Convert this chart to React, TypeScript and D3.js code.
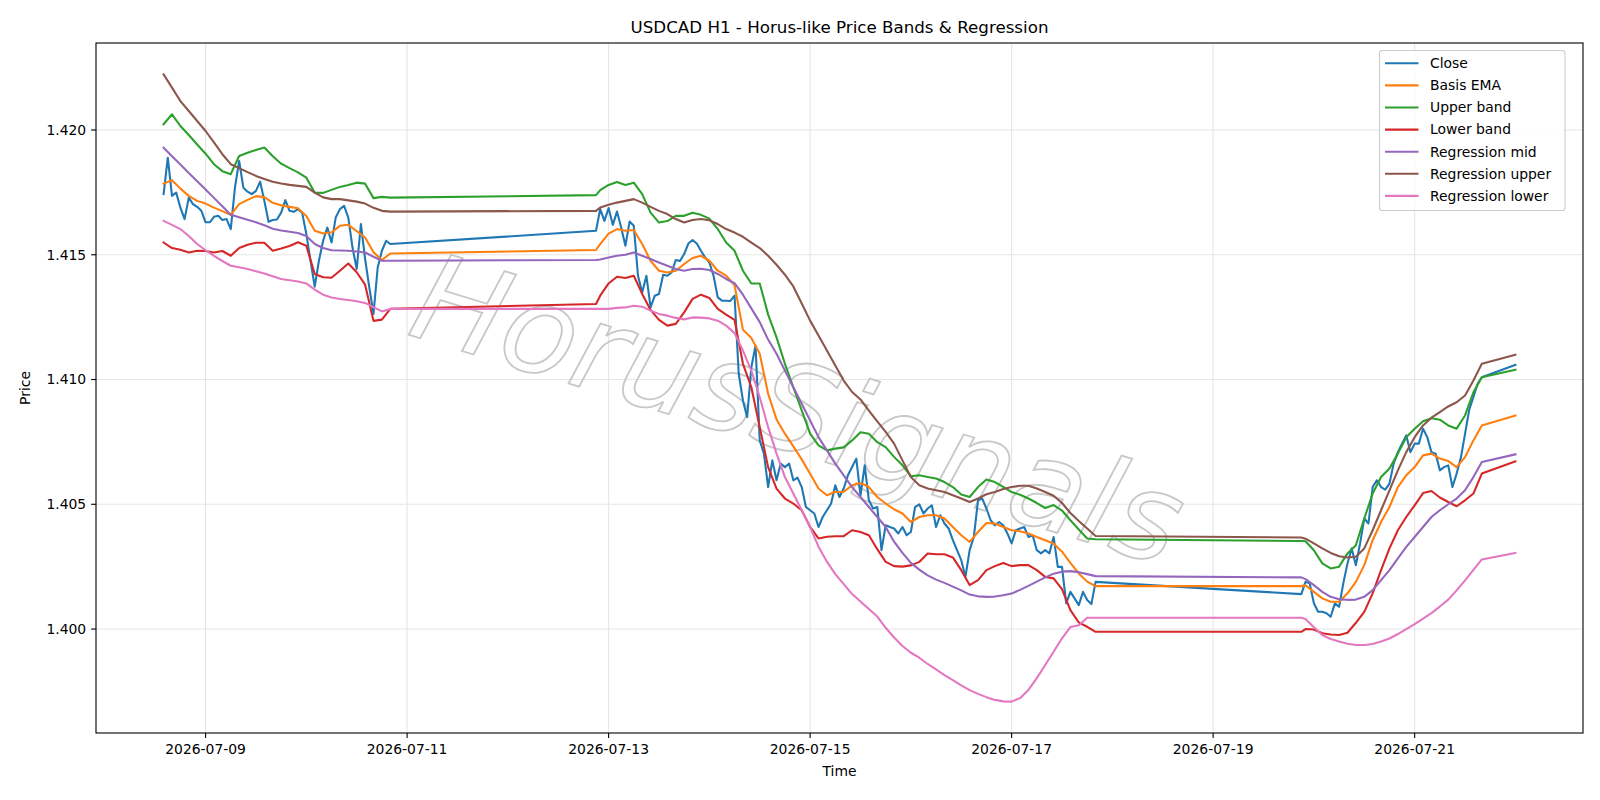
import React from 'react';
import * as d3 from 'd3';

// Hours are counted from 2026-07-08 00:00 UTC
const T0 = Date.UTC(2026, 6, 8);
const hourToDate = (h: number) => new Date(T0 + h * 3600 * 1000);

// Hourly bars: Wed 14:00 -> Fri 20:00, Sun 21:00 -> Fri 20:00, Sun 21:00 -> Tue 16:00, last bar Wed 00:00
const closeHours = [...d3.range(14, 69), ...d3.range(117, 237), ...d3.range(285, 329), 336];
// Band / regression values read every two hours
const bandHours = [...d3.range(14, 69, 2), 117, ...d3.range(118, 237, 2), 285, ...d3.range(286, 329, 2), 336];

const closePrices = [
  // 07-08 14:00 .. 07-10 20:00
  1.41743, 1.41889, 1.41736, 1.41749, 1.41689, 1.41643, 1.41729, 1.41703, 1.41692, 1.41676,
  1.4163, 1.4163, 1.41652, 1.41656, 1.41639, 1.41643, 1.41603, 1.41769, 1.41876, 1.41769,
  1.41753, 1.41743, 1.41756, 1.41793, 1.41716, 1.41632, 1.41639, 1.41641, 1.41669, 1.41719,
  1.41676, 1.41672, 1.41683, 1.41669, 1.41583, 1.41476, 1.41372, 1.41476, 1.41556, 1.41609,
  1.41549, 1.41649, 1.41683, 1.41696, 1.41649, 1.41529, 1.41443, 1.41623, 1.41483, 1.41369,
  1.41263, 1.41449, 1.41516, 1.41556, 1.41543,
  // 07-12 21:00 .. 07-17 20:00
  1.41596, 1.41683, 1.41636, 1.41687, 1.4162, 1.41673, 1.41609, 1.41536, 1.41633, 1.41616,
  1.41416, 1.41349, 1.41416, 1.41289, 1.41336, 1.41343, 1.4142, 1.41416, 1.41429, 1.41479,
  1.41475, 1.41503, 1.41545, 1.41559, 1.41545, 1.41516, 1.41489, 1.41469, 1.41416, 1.41329,
  1.41316, 1.41316, 1.41315, 1.41336, 1.41023, 1.40916, 1.40849, 1.41049, 1.41136, 1.40756,
  1.40703, 1.40569, 1.40676, 1.40596, 1.40663, 1.40649, 1.40663, 1.40596, 1.40607, 1.40569,
  1.40489, 1.40476, 1.40463, 1.40409, 1.40449, 1.40476, 1.40503, 1.40576, 1.40529, 1.40563,
  1.40616, 1.40649, 1.40683, 1.40536, 1.40656, 1.40516, 1.40483, 1.40489, 1.40316, 1.40416,
  1.40409, 1.40403, 1.40383, 1.40409, 1.40376, 1.40389, 1.40489, 1.405, 1.40463, 1.40483,
  1.40496, 1.40409, 1.40456, 1.40423, 1.40403, 1.40356, 1.40316, 1.40276, 1.40209, 1.40316,
  1.40369, 1.40516, 1.40523, 1.40483, 1.40436, 1.40416, 1.40429, 1.40416, 1.40383, 1.40343,
  1.40396, 1.40403, 1.40409, 1.40369, 1.40376, 1.40316, 1.40303, 1.40316, 1.40303, 1.40369,
  1.40249, 1.40249, 1.40103, 1.40149, 1.40123, 1.40096, 1.40149, 1.40116, 1.401, 1.40189,
  // 07-19 21:00 .. 07-21 16:00, 07-22 00:00
  1.4014, 1.40189, 1.40183, 1.40103, 1.40069, 1.40069, 1.40063, 1.40049, 1.40103, 1.40089,
  1.40183, 1.40263, 1.40323, 1.40256, 1.40343, 1.40443, 1.40423, 1.40569, 1.40596, 1.40569,
  1.40559, 1.40583, 1.40663, 1.40709, 1.40743, 1.40776, 1.40709, 1.40743, 1.40743, 1.40803,
  1.40769, 1.40709, 1.40703, 1.40636, 1.40649, 1.40656, 1.40569, 1.40623, 1.40686, 1.40782,
  1.40879, 1.4093, 1.40983, 1.41009, 1.41059,
];

const basisEma = [
  1.41785, 1.41799, 1.41765, 1.41736, 1.41716, 1.41705, 1.41689, 1.41675, 1.4166, 1.41703,
  1.4172, 1.41735, 1.41731, 1.41708, 1.41698, 1.41692, 1.41686, 1.41655, 1.41596, 1.41585,
  1.4159, 1.41616, 1.4162, 1.41595, 1.41569, 1.4151, 1.41479, 1.41505,
  1.41519, 1.41543, 1.41585, 1.41603, 1.41596, 1.41599, 1.41543, 1.41476, 1.41436, 1.41429,
  1.41436, 1.41463, 1.41487, 1.41496, 1.41476, 1.41436, 1.41416, 1.41378, 1.412, 1.41166,
  1.41103, 1.40943, 1.4084, 1.40783, 1.40732, 1.4068, 1.40622, 1.40563, 1.40536, 1.40549,
  1.4055, 1.40576, 1.40585, 1.40569, 1.40529, 1.40503, 1.4048, 1.40463, 1.40429, 1.40449,
  1.40456, 1.40456, 1.40443, 1.40409, 1.40376, 1.40349, 1.40389, 1.40425, 1.40423, 1.40409,
  1.40396, 1.40392, 1.40383, 1.40369, 1.40356, 1.40343, 1.4031, 1.40265, 1.40223, 1.4019,
  1.40172,
  1.40172, 1.40175, 1.40149, 1.40123, 1.40109, 1.40109, 1.40143, 1.40189, 1.40256, 1.40356,
  1.40429, 1.40489, 1.40569, 1.40616, 1.40649, 1.40696, 1.40703, 1.40683, 1.40673, 1.40649,
  1.40689, 1.40756, 1.40816, 1.40856,
];

const upperBand = [
  1.42023, 1.42063, 1.42016, 1.4198, 1.41942, 1.41905, 1.41863, 1.41835, 1.41823, 1.41896,
  1.41909, 1.4192, 1.4193, 1.41895, 1.41865, 1.41847, 1.4183, 1.41809, 1.41749, 1.41748,
  1.4176, 1.41772, 1.4178, 1.41789, 1.41785, 1.41727, 1.41732, 1.41729,
  1.41739, 1.41759, 1.4178, 1.41792, 1.4178, 1.41789, 1.41743, 1.41669, 1.41629, 1.41635,
  1.41656, 1.41656, 1.41668, 1.4166, 1.41645, 1.41603, 1.41549, 1.41516, 1.41436, 1.41385,
  1.41385, 1.4126, 1.41169, 1.41063, 1.40969, 1.40876, 1.40783, 1.40736, 1.40716, 1.40723,
  1.40728, 1.40756, 1.40789, 1.40783, 1.40749, 1.40729, 1.4069, 1.40656, 1.40612, 1.40616,
  1.40609, 1.40603, 1.40589, 1.40569, 1.40539, 1.40529, 1.40569, 1.40599, 1.40589, 1.4057,
  1.40549, 1.40538, 1.40523, 1.40505, 1.40485, 1.40497, 1.40475, 1.40436, 1.40399, 1.40363,
  1.4036,
  1.40353, 1.40352, 1.40316, 1.40263, 1.40243, 1.4025, 1.40303, 1.40336, 1.40443, 1.40543,
  1.40609, 1.40643, 1.40703, 1.40769, 1.40803, 1.40833, 1.40845, 1.40839, 1.40816, 1.40803,
  1.40856, 1.40949, 1.41009, 1.41039,
];

const lowerBand = [
  1.41549, 1.41527, 1.4152, 1.41509, 1.41516, 1.41515, 1.41509, 1.41515, 1.41496, 1.41527,
  1.4154, 1.41548, 1.41548, 1.41516, 1.41525, 1.41535, 1.4155, 1.41536, 1.41423, 1.4141,
  1.41408, 1.41436, 1.41465, 1.4143, 1.4138, 1.41235, 1.4124, 1.41283,
  1.41303, 1.41336, 1.41385, 1.41412, 1.41407, 1.41416, 1.41343, 1.41279, 1.41239, 1.41216,
  1.41223, 1.41269, 1.41323, 1.4134, 1.41327, 1.41283, 1.4126, 1.41239, 1.41063, 1.40969,
  1.40809, 1.40649, 1.40563, 1.40523, 1.40503, 1.40476, 1.40409, 1.40363, 1.4037, 1.40372,
  1.40372, 1.40396, 1.40389, 1.40376, 1.4032, 1.40269, 1.40252, 1.4025, 1.40255, 1.40269,
  1.40303, 1.403, 1.403, 1.40287, 1.40236, 1.40176, 1.40196, 1.40236, 1.40252, 1.40265,
  1.40252, 1.40256, 1.40256, 1.40236, 1.40209, 1.40203, 1.4016, 1.40076, 1.40026, 1.40009,
  1.39989,
  1.39989, 1.4, 1.39998, 1.39983, 1.39978, 1.39976, 1.39985, 1.40025, 1.40069, 1.40143,
  1.40236, 1.40323, 1.40396, 1.40449, 1.40496, 1.40545, 1.40553, 1.40527, 1.40509, 1.40492,
  1.40516, 1.40543, 1.40623, 1.40672,
];

const regressionMid = [
  1.41929, 1.41895, 1.41862, 1.41828, 1.41795, 1.41762, 1.41728, 1.41694, 1.4166, 1.4165,
  1.4164, 1.4163, 1.41618, 1.41604, 1.41597, 1.41592, 1.41587, 1.41575, 1.41543, 1.41527,
  1.41518, 1.41517, 1.41516, 1.41513, 1.41509, 1.41492, 1.41476, 1.41476,
  1.41479, 1.41481, 1.41489, 1.41496, 1.415, 1.41509, 1.41496, 1.41483, 1.41469, 1.41456,
  1.41443, 1.41436, 1.41443, 1.41444, 1.41439, 1.41423, 1.41403, 1.41386, 1.4134, 1.41285,
  1.4123, 1.4116, 1.41103, 1.41036, 1.40969, 1.40903, 1.40836, 1.40769, 1.40716, 1.40663,
  1.40616, 1.40569, 1.40529, 1.40489, 1.40449, 1.40409, 1.4035, 1.40305, 1.40265, 1.40238,
  1.40215, 1.40198, 1.40185, 1.4017, 1.40155, 1.40138, 1.40131, 1.40129, 1.4013, 1.40135,
  1.40142, 1.40157, 1.40173, 1.4019, 1.40207, 1.40222, 1.4023, 1.40232, 1.40228, 1.4022,
  1.40212,
  1.40207, 1.402, 1.40176, 1.40149, 1.40129, 1.40119, 1.40117, 1.40118, 1.40129, 1.40156,
  1.40196, 1.40236, 1.40283, 1.40329, 1.40369, 1.40409, 1.40449, 1.40476, 1.405, 1.40523,
  1.40556, 1.40609, 1.40669, 1.407,
];

const regressionUpper = [
  1.42223, 1.4217, 1.42116, 1.42076, 1.42036, 1.41996, 1.4195, 1.41903, 1.41863, 1.41847,
  1.41831, 1.41816, 1.41804, 1.41793, 1.41786, 1.4178, 1.41776, 1.41772, 1.41749, 1.4173,
  1.41723, 1.41723, 1.41718, 1.41713, 1.41705, 1.41688, 1.41676, 1.41673,
  1.41676, 1.41689, 1.417, 1.41709, 1.41716, 1.41723, 1.41709, 1.41692, 1.41676, 1.41663,
  1.41643, 1.41629, 1.41639, 1.41643, 1.41638, 1.41623, 1.41603, 1.41589, 1.41572, 1.41549,
  1.41527, 1.41496, 1.4146, 1.4142, 1.41373, 1.41305, 1.41236, 1.41176, 1.41116, 1.41056,
  1.40996, 1.4095, 1.4092, 1.40875, 1.40832, 1.4079, 1.40743, 1.40676, 1.40609, 1.40576,
  1.40563, 1.40556, 1.40549, 1.40536, 1.40523, 1.40509, 1.40523, 1.4054, 1.40549, 1.40561,
  1.40569, 1.40574, 1.40574, 1.40563, 1.40549, 1.40534, 1.40505, 1.40465, 1.40433, 1.40403,
  1.40373,
  1.40367, 1.40362, 1.40343, 1.40323, 1.40305, 1.40292, 1.40287, 1.4029, 1.40323, 1.40396,
  1.40476, 1.40556, 1.40636, 1.40709, 1.40769, 1.40816, 1.40847, 1.40869, 1.40892, 1.40909,
  1.40936, 1.40996, 1.41063, 1.41099,
];

const regressionLower = [
  1.41636, 1.4162, 1.41603, 1.41575, 1.41543, 1.41518, 1.41496, 1.41475, 1.41456, 1.4145,
  1.41443, 1.41434, 1.41425, 1.41414, 1.41403, 1.41398, 1.41393, 1.41385, 1.4136, 1.4134,
  1.41329, 1.41323, 1.41319, 1.41314, 1.41307, 1.4129, 1.41273, 1.41283,
  1.41283, 1.41283, 1.41283, 1.41287, 1.41289, 1.41296, 1.41292, 1.41276, 1.41263, 1.41256,
  1.41247, 1.41241, 1.41249, 1.41248, 1.41245, 1.41236, 1.41216, 1.41186, 1.41116, 1.41036,
  1.40929, 1.40809, 1.40703, 1.40609, 1.40543, 1.40476, 1.40409, 1.4033, 1.4027, 1.4022,
  1.4018, 1.4014, 1.4011, 1.4008, 1.4005, 1.40005, 1.39966, 1.39932, 1.39905, 1.39885,
  1.3986, 1.39838, 1.39815, 1.39795, 1.39774, 1.39755, 1.3974, 1.39727, 1.39716, 1.3971,
  1.39709, 1.39723, 1.39756, 1.39803, 1.39856, 1.39909, 1.39963, 1.40008, 1.40015, 1.40045,
  1.40045,
  1.40045, 1.4004, 1.40007, 1.39976, 1.3996, 1.3995, 1.39941, 1.39936, 1.39936, 1.3994,
  1.3995, 1.39962, 1.3998, 1.4, 1.4002, 1.40042, 1.40064, 1.4009, 1.40118, 1.40155,
  1.40195, 1.40237, 1.40279, 1.40305,
];

const seriesNames = ['Close', 'Basis EMA', 'Upper band', 'Lower band', 'Regression mid', 'Regression upper', 'Regression lower'];
const seriesColors = ['#1f77b4', '#ff7f0e', '#2ca02c', '#d62728', '#9467bd', '#8c564b', '#e377c2'];

const xTickDays = [9, 11, 13, 15, 17, 19, 21];
const yTicks = [1.4, 1.405, 1.41, 1.415, 1.42];

const W = 1600;
const H = 800;
const margin = { top: 43, right: 17, bottom: 67, left: 96 };
const FONT = 'DejaVu Sans, sans-serif';

type Pt = { t: Date; v: number };

const App: React.FC = () => {
  const series = [
    { hours: closeHours, values: closePrices },
    { hours: bandHours, values: basisEma },
    { hours: bandHours, values: upperBand },
    { hours: bandHours, values: lowerBand },
    { hours: bandHours, values: regressionMid },
    { hours: bandHours, values: regressionUpper },
    { hours: bandHours, values: regressionLower },
  ].map((s, i) => ({
    name: seriesNames[i],
    color: seriesColors[i],
    points: s.hours.map((h, j) => ({ t: hourToDate(h), v: s.values[j] })) as Pt[],
  }));

  // matplotlib-style 5% margins
  const tMin = hourToDate(d3.min(closeHours) as number).getTime();
  const tMax = hourToDate(d3.max(closeHours) as number).getTime();
  const tPad = (tMax - tMin) * 0.05;
  const allV = series.flatMap(s => s.points.map(p => p.v));
  const vMin = d3.min(allV) as number;
  const vMax = d3.max(allV) as number;
  const vPad = (vMax - vMin) * 0.05;

  const x0 = margin.left;
  const x1 = W - margin.right;
  const y0 = margin.top;
  const y1 = H - margin.bottom;

  const xScale = d3.scaleUtc().domain([new Date(tMin - tPad), new Date(tMax + tPad)]).range([x0, x1]);
  const yScale = d3.scaleLinear().domain([vMin - vPad, vMax + vPad]).range([y1, y0]);

  const line = d3
    .line<Pt>()
    .x(d => xScale(d.t))
    .y(d => yScale(d.v));

  const xTicks = xTickDays.map(d => new Date(Date.UTC(2026, 6, d)));
  const fmtDate = d3.utcFormat('%Y-%m-%d');
  const fmtPrice = d3.format('.3f');
  const tickLen = 4.9;
  const gridColor = '#e6e6e6';

  const legendX = 1379.5;
  const legendY = 50.5;
  const rowH = 22.1;

  return (
    <svg
      width={W}
      height={H}
      style={{ position: 'absolute', left: 0, top: 0, display: 'block', background: '#fff' }}
      fontFamily={FONT}
    >
      <rect x={0} y={0} width={W} height={H} fill="#fff" />

      {/* Grid */}
      {xTicks.map((t, i) => (
        <line key={`gx${i}`} x1={xScale(t)} x2={xScale(t)} y1={y0} y2={y1} stroke={gridColor} strokeWidth={1.1} />
      ))}
      {yTicks.map((v, i) => (
        <line key={`gy${i}`} x1={x0} x2={x1} y1={yScale(v)} y2={yScale(v)} stroke={gridColor} strokeWidth={1.1} />
      ))}

      {/* Watermark */}
      <text
        transform="translate(786,450) rotate(17)"
        textAnchor="middle"
        fontSize={122}
        fontStyle="italic"
        fill="none"
        stroke="#c8c8c8"
        strokeWidth={1.8}
        fontFamily={FONT}
      >
        HorusSignals
      </text>

      {/* Series */}
      <g clipPath="url(#plotClip)">
        {series.map(s => (
          <path
            key={s.name}
            d={line(s.points) || ''}
            fill="none"
            stroke={s.color}
            strokeWidth={2.08}
            strokeLinejoin="round"
            strokeLinecap="square"
          />
        ))}
      </g>
      <defs>
        <clipPath id="plotClip">
          <rect x={x0} y={y0} width={x1 - x0} height={y1 - y0} />
        </clipPath>
      </defs>

      {/* Axes frame */}
      <rect x={x0} y={y0} width={x1 - x0} height={y1 - y0} fill="none" stroke="#000" strokeWidth={1.1} />

      {/* X ticks */}
      {xTicks.map((t, i) => (
        <g key={`xt${i}`} transform={`translate(${xScale(t)},${y1})`}>
          <line y1={0} y2={tickLen} stroke="#000" strokeWidth={1.1} />
          <text y={tickLen + 4.9 + 11} textAnchor="middle" fontSize={13.9} fill="#000">
            {fmtDate(t)}
          </text>
        </g>
      ))}

      {/* Y ticks */}
      {yTicks.map((v, i) => (
        <g key={`yt${i}`} transform={`translate(${x0},${yScale(v)})`}>
          <line x1={0} x2={-tickLen} stroke="#000" strokeWidth={1.1} />
          <text x={-tickLen - 4.9} dy="0.35em" textAnchor="end" fontSize={13.9} fill="#000">
            {fmtPrice(v)}
          </text>
        </g>
      ))}

      {/* Axis labels & title */}
      <text x={(x0 + x1) / 2} y={776} textAnchor="middle" fontSize={13.9} fill="#000">
        Time
      </text>
      <text transform={`translate(25.5,${(y0 + y1) / 2}) rotate(-90)`} dy="0.35em" textAnchor="middle" fontSize={13.9} fill="#000">
        Price
      </text>
      <text x={(x0 + x1) / 2} y={32.5} textAnchor="middle" fontSize={16.7} fill="#000">
        USDCAD H1 - Horus-like Price Bands &amp; Regression
      </text>

      {/* Legend */}
      <g>
        <rect
          x={legendX}
          y={legendY}
          width={185.5}
          height={160}
          rx={2.8}
          fill="#fff"
          fillOpacity={0.8}
          stroke="#cccccc"
          strokeWidth={1.1}
        />
        {series.map((s, i) => {
          const ry = 63.3 + i * rowH;
          return (
            <g key={`lg${i}`}>
              <line x1={1385} x2={1418.5} y1={ry} y2={ry} stroke={s.color} strokeWidth={2.08} />
              <text x={1430} y={ry} dy="0.35em" fontSize={13.9} fill="#000">
                {s.name}
              </text>
            </g>
          );
        })}
      </g>
    </svg>
  );
};

export default App;
